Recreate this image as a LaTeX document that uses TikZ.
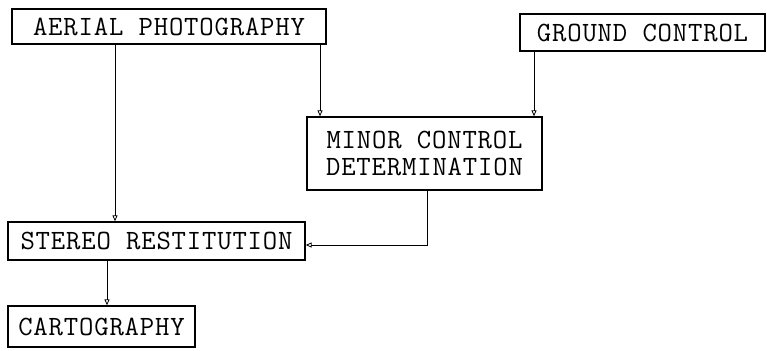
\documentclass[tikz,border=0pt]{standalone}
\usepackage{fontspec}
\newfontfamily\typewriter[LetterSpace=3]{Latin Modern Mono}
\usetikzlibrary{arrows.meta}
\begin{document}
\begin{tikzpicture}[x=1bp,y=-1bp,
  stage/.style={draw, line width=1.3pt, rectangle, inner sep=0pt,
    font=\typewriter\fontsize{28}{31}\selectfont, align=center},
  flow/.style={line width=0.8pt, -{Triangle[open,length=6bp,width=5bp]}}]
\useasboundingbox (0,0) rectangle (767,350);

% process stages
\node[stage, minimum width=314bp, minimum height=35bp] (aerial) at (169,26.5) {AERIAL PHOTOGRAPHY};
\node[stage, minimum width=245bp, minimum height=37bp] (ground) at (642.5,32.5) {GROUND CONTROL};
\node[stage, minimum width=235bp, minimum height=73bp] (minor) at (424.5,153.5) {MINOR CONTROL\\[-4pt]DETERMINATION};
\node[stage, minimum width=297bp, minimum height=38bp] (stereo) at (156.5,241) {STEREO RESTITUTION};
\node[stage, minimum width=187bp, minimum height=41bp] (carto) at (101.5,326.5) {CARTOGRAPHY};

% vertical positions of the connectors
\coordinate (xa) at (115,0);
\coordinate (xb) at (320,0);
\coordinate (xc) at (534,0);
\coordinate (xd) at (427,0);
\coordinate (xe) at (107,0);
\coordinate (ys) at (0,245);

% connectors
\draw[flow] (aerial.south -| xa) -- (stereo.north -| xa);
\draw[flow] (aerial.south -| xb) -- (minor.north -| xb);
\draw[flow] (ground.south -| xc) -- (minor.north -| xc);
\draw[flow] (minor.south -| xd) |- (stereo.east |- ys);
\draw[flow] (stereo.south -| xe) -- (carto.north -| xe);
\end{tikzpicture}
\end{document}
